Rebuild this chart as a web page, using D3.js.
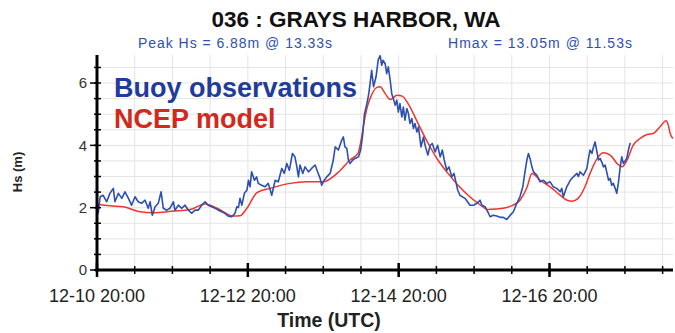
<!DOCTYPE html>
<html>
<head>
<meta charset="utf-8">
<script src="https://cdn.jsdelivr.net/npm/d3@7"></script>
<style>
  html, body { margin: 0; padding: 0; background: #fff; }
  svg { display: block; font-family: "Liberation Sans", Arial, Helvetica, sans-serif; }
</style>
</head>
<body>
<svg id="chart" width="675" height="333"></svg>
<script>
// Station and summary text
const titleText = "036 : GRAYS HARBOR, WA";
const peakText = "Peak Hs = 6.88m @ 13.33s";
const hmaxText = "Hmax = 13.05m @ 11.53s";
const legendLabels = ["Buoy observations", "NCEP model"];

// Time origin of the record (UTC); all times below are hours after it
const startUTC = Date.UTC(2023, 11, 10, 20);
const endHour = 183.3;

// Buoy significant wave height observations (hours, metres)
const obsHours = [0.2, 0.4, 1.0, 1.9, 3.1, 4.1, 5.2, 5.7, 6.8, 7.9, 8.9, 10.0, 11.0, 12.1, 13.1, 14.2, 15.3, 16.3, 16.9, 17.6,
  18.5, 19.5, 20.4, 21.1, 22.2, 23.2, 24.3, 24.8, 25.9, 27.0, 28.0, 29.1, 30.1, 31.2, 32.2, 33.3, 34.4, 35.4, 36.5, 37.6,
  38.6, 39.7, 40.7, 41.8, 42.9, 43.9, 44.5, 45.0, 45.5, 46.1, 46.9, 47.7, 48.2, 48.7, 49.2, 50.1, 50.8, 51.3, 52.4, 53.5,
  54.5, 55.6, 56.7, 57.7, 58.8, 59.6, 60.4, 61.2, 62.2, 63.0, 63.6, 64.1, 64.6, 65.5, 66.2, 67.3, 68.3, 69.4, 70.4, 71.0,
  71.5, 72.0, 73.1, 74.2, 75.2, 75.8, 76.8, 77.9, 78.4, 78.9, 79.5, 80.0, 80.5, 81.4, 82.1, 83.2, 83.9, 84.5, 85.1, 85.8,
  86.4, 86.9, 87.4, 88.0, 88.8, 89.5, 90.1, 90.6, 91.0, 91.7, 92.2, 92.7, 93.3, 93.8, 94.3, 94.9, 95.4, 95.9, 96.4, 97.0,
  97.5, 98.0, 98.6, 99.1, 99.6, 100.2, 100.7, 101.2, 101.8, 102.3, 103.1, 103.9, 104.4, 105.3, 106.0, 106.7, 107.6, 108.4, 109.2, 109.9,
  110.5, 111.3, 112.0, 112.9, 113.6, 114.2, 114.8, 115.5, 117.1, 118.7, 119.8, 120.9, 121.9, 122.5, 123.5, 124.6, 125.1, 126.1, 127.2, 128.3,
  129.3, 130.4, 131.5, 132.5, 133.6, 134.6, 135.5, 136.2, 136.8, 137.3, 137.8, 138.4, 138.9, 140.0, 141.0, 142.1, 143.1, 144.2, 145.2, 146.3,
  147.4, 147.9, 148.4, 149.5, 150.6, 151.6, 152.7, 153.2, 153.7, 154.8, 155.9, 156.4, 156.9, 157.5, 158.0, 158.5, 159.1, 159.6, 160.1, 160.6,
  161.2, 161.7, 162.2, 162.8, 163.3, 163.8, 164.3, 164.9, 165.4, 165.9, 166.5, 167.0, 167.5, 168.6, 169.1, 169.7];
const obsHs = [2.10, 1.83, 2.35, 2.40, 2.19, 2.46, 2.62, 2.19, 2.46, 2.30, 2.51, 2.30, 2.08, 2.35, 2.19, 2.14, 2.24, 1.98, 2.19, 1.76,
  2.03, 2.14, 2.51, 1.98, 1.92, 1.98, 2.19, 1.92, 2.08, 1.98, 2.08, 1.92, 1.82, 1.92, 1.92, 2.08, 2.19, 2.08, 2.03, 1.98,
  1.92, 1.87, 1.82, 1.73, 1.71, 1.82, 2.03, 2.00, 2.30, 2.08, 2.46, 2.56, 2.88, 2.67, 3.15, 2.88, 2.99, 2.78, 2.72, 2.67,
  2.78, 2.40, 2.88, 2.83, 3.26, 3.10, 3.42, 3.20, 3.74, 3.63, 3.31, 2.99, 3.37, 3.10, 3.31, 3.15, 3.26, 3.37, 3.10, 2.94,
  2.72, 2.83, 2.99, 3.10, 3.53, 3.95, 3.85, 4.17, 4.27, 3.95, 3.90, 3.53, 3.42, 3.53, 3.58, 3.63, 3.85, 4.30, 5.00, 5.30,
  5.60, 5.98, 6.41, 5.88, 6.20, 6.75, 6.88, 6.57, 6.73, 6.62, 6.30, 6.52, 6.09, 5.66, 5.50, 5.29, 5.45, 5.07, 5.34, 4.91,
  5.23, 4.81, 5.18, 5.02, 4.70, 4.86, 4.54, 4.70, 4.43, 4.59, 3.95, 4.27, 4.00, 3.69, 4.00, 4.06, 3.79, 4.00, 3.63, 3.85,
  3.53, 3.20, 3.31, 2.99, 3.10, 2.83, 2.56, 2.40, 2.30, 2.08, 2.08, 2.14, 2.24, 2.08, 2.03, 1.82, 1.71, 1.76, 1.73, 1.69,
  1.69, 1.62, 1.76, 1.87, 2.14, 2.35, 2.67, 3.15, 3.53, 3.74, 3.58, 3.31, 3.15, 3.04, 2.83, 2.88, 2.78, 2.83, 2.67, 2.62,
  2.51, 2.62, 2.35, 2.67, 2.88, 2.99, 3.10, 3.00, 3.15, 3.04, 3.26, 3.58, 3.85, 3.74, 3.95, 4.11, 3.79, 3.53, 3.58, 3.47,
  3.31, 3.37, 3.15, 2.88, 2.94, 2.72, 2.78, 2.62, 2.46, 2.78, 3.31, 3.63, 3.42, 3.58, 3.85, 4.08];

// NCEP wave model significant wave height (hours, metres)
const modelHours = [0, 4.1, 8.3, 13.7, 17.8, 24.2, 29.6, 34.4, 38.2, 43.3, 45.5, 47.7, 50.9, 55.1, 61.4, 66.8, 71.9, 76.4, 80.5, 83.1,
  84.1, 85.2, 85.8, 86.9, 89.1, 90.1, 91.7, 93.3, 95.5, 97.1, 99.0, 102.2, 105.4, 108.5, 111.7, 114.9, 118.1, 121.3, 124.5, 127.3,
  129.2, 132.4, 134.6, 136.9, 138.4, 141.0, 144.2, 147.4, 149.6, 151.2, 153.1, 155.3, 156.9, 159.2, 161.1, 163.3, 165.5, 167.1, 168.7, 170.6,
  172.8, 175.1, 177.0, 179.2, 181.1, 181.8, 182.4, 183.3];
const modelHs = [2.12, 2.06, 2.03, 1.87, 1.84, 1.89, 1.94, 2.12, 1.98, 1.73, 1.74, 1.98, 2.48, 2.62, 2.78, 2.83, 2.83, 3.10, 3.53, 3.75,
  4.20, 4.85, 5.15, 5.50, 5.86, 5.88, 5.66, 5.47, 5.61, 5.58, 5.34, 4.70, 4.06, 3.53, 3.10, 2.72, 2.40, 2.14, 1.94, 1.96,
  1.98, 2.08, 2.24, 2.67, 3.10, 2.88, 2.67, 2.40, 2.24, 2.21, 2.30, 2.67, 3.10, 3.58, 3.76, 3.69, 3.42, 3.31, 3.53, 4.00,
  4.22, 4.35, 4.38, 4.60, 4.79, 4.65, 4.38, 4.22];

// Axis ticks
const yMajorTicks = [0, 2, 4, 6];
const yMinorStep = 0.5;
const xMajorStepHours = 48;
const xMinorStepHours = 12;

const svg = d3.select("#chart");
const margin = { top: 55, right: 2, bottom: 63, left: 97 };
const W = 675, H = 333;
const toDate = h => new Date(startUTC + h * 3600e3);

const x = d3.scaleUtc()
  .domain([toDate(0), toDate(endHour)])
  .range([margin.left, W - margin.right]);
const y = d3.scaleLinear()
  .domain([0, 6.9])
  .range([H - margin.bottom, margin.top]);

const xMinorHours = d3.range(0, endHour, xMinorStepHours);
const xMajorHours = d3.range(0, endHour, xMajorStepHours);
const yMinor = d3.range(0, 6.9, yMinorStep);

// Grid
const grid = svg.append("g").attr("stroke", "#e4e4e4").attr("stroke-width", 1);
grid.selectAll("line.v").data(xMinorHours.filter(h => h > 0)).join("line")
  .attr("x1", h => x(toDate(h))).attr("x2", h => x(toDate(h)))
  .attr("y1", y(0)).attr("y2", y.range()[1]);
grid.selectAll("line.h").data(yMinor.filter(v => v > 0)).join("line")
  .attr("x1", x.range()[0]).attr("x2", x.range()[1])
  .attr("y1", v => y(v)).attr("y2", v => y(v));

// Series
const obs = obsHours.map((h, i) => ({ t: toDate(h), v: obsHs[i] }));
const model = modelHours.map((h, i) => ({ t: toDate(h), v: modelHs[i] }));

svg.append("path").datum(model)
  .attr("fill", "none").attr("stroke", "#f0352b").attr("stroke-width", 1.5)
  .attr("stroke-linejoin", "round")
  .attr("d", d3.line().x(d => x(d.t)).y(d => y(d.v)).curve(d3.curveMonotoneX));

svg.append("path").datum(obs)
  .attr("fill", "none").attr("stroke", "#2d4fb0").attr("stroke-width", 1.6)
  .attr("stroke-linejoin", "round")
  .attr("d", d3.line().x(d => x(d.t)).y(d => y(d.v)));

// Axes
const axes = svg.append("g").attr("stroke", "#000");
axes.append("line")
  .attr("x1", x.range()[0]).attr("x2", x.range()[0])
  .attr("y1", y(0) + 1.5).attr("y2", y.range()[1])
  .attr("stroke-width", 3);
axes.append("line")
  .attr("x1", x.range()[0] - 1.5).attr("x2", x.range()[1])
  .attr("y1", y(0)).attr("y2", y(0))
  .attr("stroke-width", 3);

// y ticks
axes.selectAll("line.ym").data(yMinor).join("line")
  .attr("x1", x.range()[0] - 3).attr("x2", x.range()[0] + 4)
  .attr("y1", v => y(v)).attr("y2", v => y(v))
  .attr("stroke-width", 1.5);
axes.selectAll("line.yM").data(yMajorTicks).join("line")
  .attr("x1", x.range()[0] - 7).attr("x2", x.range()[0])
  .attr("y1", v => y(v)).attr("y2", v => y(v))
  .attr("stroke-width", 1.5);
svg.append("g").selectAll("text").data(yMajorTicks).join("text")
  .attr("x", x.range()[0] - 10).attr("y", v => y(v))
  .attr("dy", "0.35em").attr("text-anchor", "end")
  .attr("font-size", 15).attr("fill", "#333")
  .text(d => d);

// x ticks
axes.selectAll("line.xm").data(xMinorHours).join("line")
  .attr("x1", h => x(toDate(h))).attr("x2", h => x(toDate(h)))
  .attr("y1", y(0) - 4).attr("y2", y(0) + 4)
  .attr("stroke-width", 1.5);
axes.selectAll("line.xM").data(xMajorHours).join("line")
  .attr("x1", h => x(toDate(h))).attr("x2", h => x(toDate(h)))
  .attr("y1", y(0) - 7).attr("y2", y(0) + 7)
  .attr("stroke-width", 2.5);
const fmt = d3.utcFormat("%m-%d %H:%M");
svg.append("g").selectAll("text").data(xMajorHours).join("text")
  .attr("x", h => x(toDate(h))).attr("y", 302)
  .attr("text-anchor", "middle")
  .attr("font-size", 18).attr("fill", "#222")
  .text(h => fmt(toDate(h)));

// Axis titles
svg.append("text")
  .attr("x", 329).attr("y", 327)
  .attr("text-anchor", "middle").attr("font-weight", "bold")
  .attr("font-size", 19.5).attr("fill", "#222")
  .text("Time (UTC)");
svg.append("text")
  .attr("transform", "translate(22,172) rotate(-90)")
  .attr("text-anchor", "middle").attr("font-weight", "bold")
  .attr("font-size", 13).attr("fill", "#222")
  .text("Hs (m)");

// Title and summary
svg.append("text")
  .attr("x", 356).attr("y", 27)
  .attr("text-anchor", "middle").attr("font-weight", "bold")
  .attr("font-size", 22.5).attr("fill", "#111")
  .text(titleText);
svg.append("text")
  .attr("x", 138).attr("y", 48)
  .attr("font-size", 14).attr("fill", "#3050b0")
  .attr("textLength", 194).attr("lengthAdjust", "spacing")
  .text(peakText);
svg.append("text")
  .attr("x", 448).attr("y", 48)
  .attr("font-size", 14).attr("fill", "#3050b0")
  .attr("textLength", 184).attr("lengthAdjust", "spacing")
  .text(hmaxText);

// Legend
svg.append("text")
  .attr("x", 114).attr("y", 97)
  .attr("font-weight", "bold").attr("font-size", 27).attr("fill", "#1f3c9c")
  .text(legendLabels[0]);
svg.append("text")
  .attr("x", 114).attr("y", 128)
  .attr("font-weight", "bold").attr("font-size", 27).attr("fill", "#d2291c")
  .text(legendLabels[1]);
</script>
</body>
</html>
